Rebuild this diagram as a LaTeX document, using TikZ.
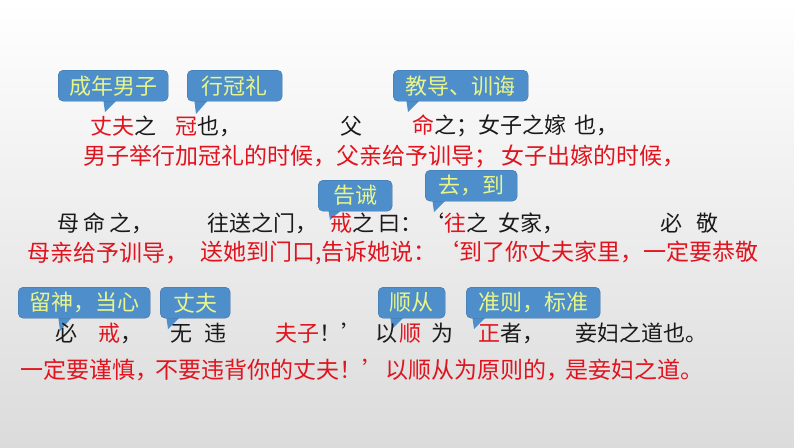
\documentclass[tikz,border=0pt]{standalone}
\usepackage{fontspec}
\setmainfont{Noto Sans CJK SC}
\begin{document}
\begin{tikzpicture}[x=1pt,y=-1pt]
\definecolor{cbl}{HTML}{4E8FCB}
\definecolor{cyl}{HTML}{E8F58A}
\definecolor{tred}{HTML}{E0141E}
\definecolor{tdk}{HTML}{1A1A1A}
\tikzset{
 cbox/.style={fill=cbl,draw=cbl!80!black,line width=0.4pt,rounded corners=5pt,inner sep=0pt,minimum height=31pt,anchor=north west},
 ct/.style={text=cyl,font=\fontsize{22}{22}\selectfont,inner sep=0pt},
 ot/.style={anchor=west,font=\fontsize{22}{22}\selectfont,text=tdk,inner sep=0pt},
 tr/.style={anchor=west,font=\fontsize{23}{23}\selectfont,text=tred,inner sep=0pt},
}
\shade[top color=white,bottom color=black!14] (0,0) rectangle (794,447);
\useasboundingbox (0,0) rectangle (794,447);
\newcommand\mycall[6]{%
 \fill[cbl] (#5-2,#3+28) -- (#5+14,#3+28) -- (#5,#3+#6) -- cycle;
 \node[cbox,minimum width=#4] (#1) at (#2,#3) {};
}
\mycall{c1}{58}{70}{110}{105}{42}
\node[ct] (t1) at (c1.center) {成年男子};
\mycall{c2}{187}{70}{95}{196}{44}
\node[ct] (t2) at (c2.center) {行冠礼};
\mycall{c3}{393}{70}{135}{408}{42}
\node[ct] (t3) at (c3.center) {教导、训诲};
\mycall{c4}{318}{180}{74}{330}{40}
\node[ct] (t4) at (c4.center) {告诫};
\mycall{c5}{425}{170}{92}{434}{42}
\node[ct] (t5) at (c5.center) {去，到};
\mycall{c6}{18}{287}{132}{60}{44}
\node[ct] (t6) at (c6.center) {留神，当心};
\mycall{c7}{160}{287}{70}{168}{42}
\node[ct] (t7) at (c7.center) {丈夫};
\mycall{c8}{378}{287}{67}{392}{42}
\node[ct] (t8) at (c8.center) {顺从};
\mycall{c9}{466}{287}{134}{474}{42}
\node[ct] (t9) at (c9.center) {准则，标准};
% row 1
\node[ot] (a1) at (90,126) {\textcolor{tred}{丈夫}之};
\node[ot] (a2) at (175,126) {\textcolor{tred}{冠}也，};
\node[ot] (a3) at (340,126) {父};
\node[ot] (a4) at (412,126) {\textcolor{tred}{命}之；女子之嫁\hspace{8pt}也，};
\node[tr] (b1) at (83,157) {男子举行加冠礼的时候，父亲给予训导；\hspace{4pt}女子出嫁的时候，};
% row 2
\node[ot] (a5) at (57,223) {母\hspace{4pt}命\hspace{4pt}之，};
\node[ot] (a6) at (207,223) {往送之门，};
\node[ot] (a7) at (330,223) {\textcolor{tred}{戒}之\hspace{4pt}曰：‘\textcolor{tred}{往}之\hspace{10pt}女家，};
\node[ot] (a8) at (660,223) {必\hspace{14pt}敬};
\node[tr] (b2) at (27,253) {母亲给予训导，};
\node[tr] (b3) at (200,253) {送她到门口,告诉她说：‘到了你丈夫家里，一定要恭敬};
% row 3
\node[ot] (a9) at (55,333) {必};
\node[ot] (a10) at (98,333) {\textcolor{tred}{戒}，};
\node[ot] (a11) at (170,333) {无\hspace{12pt}违};
\node[ot] (a12) at (275,333) {\textcolor{tred}{夫子}！’};
\node[ot] (a13) at (375,333) {以\hspace{2pt}\textcolor{tred}{顺}\hspace{10pt}为};
\node[ot] (a14) at (478,333) {\textcolor{tred}{正}者，};
\node[ot] (a15) at (575,333) {妾妇之道也。};
\node[tr] (b4) at (20,370) {一定要谨慎，};
\node[tr] (b5) at (155,370) {不要违背你的丈夫！’以顺从为原则的，};
\node[tr] (b6) at (565,370) {是妾妇之道。};
\end{tikzpicture}
\end{document}
